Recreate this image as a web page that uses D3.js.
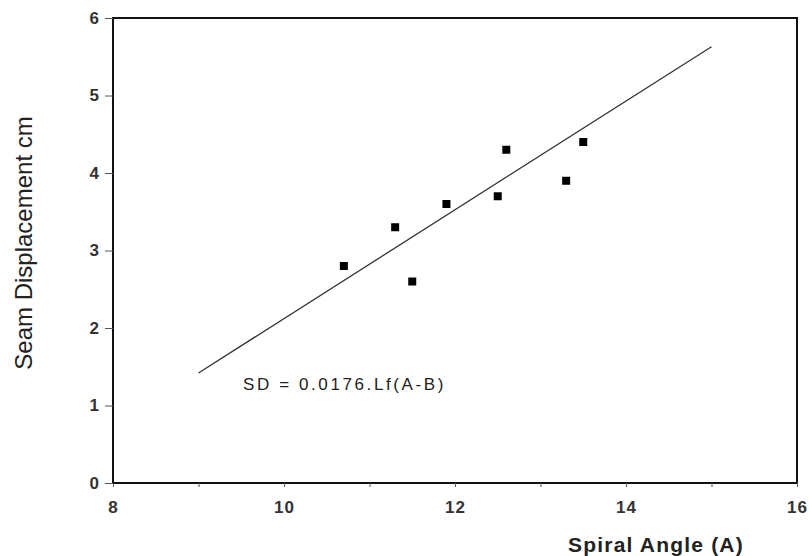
<!DOCTYPE html>
<html>
<head>
<meta charset="utf-8">
<script src="https://cdn.jsdelivr.net/npm/d3@7"></script>
<style>
  body { margin: 0; background: #fff; }
  text { font-family: "Liberation Sans", Arial, sans-serif; fill: #222; }
</style>
</head>
<body>
<svg id="chart" width="809" height="556"></svg>
<script>
var angle = [10.7, 11.3, 11.5, 11.9, 12.5, 12.6, 13.3, 13.5];
var displacement = [2.8, 3.3, 2.6, 3.6, 3.7, 4.3, 3.9, 4.4];
var fitX = [9, 15];
var fitY = [1.42, 5.63];
var xTickLabels = [8, 10, 12, 14, 16];
var yTickLabels = [0, 1, 2, 3, 4, 5, 6];

var svg = d3.select("#chart");
var plotLeft = 113, plotRight = 797, plotTop = 18, plotBottom = 483;

var x = d3.scaleLinear().domain([8, 16]).range([plotLeft, plotRight]);
var y = d3.scaleLinear().domain([0, 6]).range([plotBottom, plotTop]);

// frame
svg.append("rect").attr("x", plotLeft).attr("y", plotTop)
  .attr("width", plotRight - plotLeft).attr("height", plotBottom - plotTop)
  .attr("fill", "none").attr("stroke", "#111").attr("stroke-width", 2);

// x ticks every unit, labels on even ones
var xAxis = d3.axisBottom(x).tickValues(d3.range(8, 17)).tickSize(4).tickPadding(14)
  .tickFormat(function(d) { return xTickLabels.indexOf(d) >= 0 ? d : ""; });
var gx = svg.append("g").attr("transform", "translate(0," + plotBottom + ")").call(xAxis);
gx.select(".domain").remove();
gx.selectAll("line").attr("stroke", "#555");
gx.selectAll("text").attr("font-size", 17).attr("font-weight", "bold")
  .attr("letter-spacing", 1).style("fill", "#333");

var yAxis = d3.axisLeft(y).tickValues(yTickLabels).tickSize(8).tickPadding(6)
  .tickFormat(d3.format("d"));
var gy = svg.append("g").attr("transform", "translate(" + plotLeft + ",0)").call(yAxis);
gy.select(".domain").remove();
gy.selectAll("line").attr("stroke", "#555");
gy.selectAll("text").attr("font-size", 17).attr("font-weight", "bold").style("fill", "#333");

// fit line
svg.append("line")
  .attr("x1", x(fitX[0])).attr("y1", y(fitY[0]))
  .attr("x2", x(fitX[1])).attr("y2", y(fitY[1]))
  .attr("stroke", "#333").attr("stroke-width", 1.3);

// points
svg.selectAll("rect.pt").data(angle).enter().append("rect").attr("class", "pt")
  .attr("x", function(d) { return x(d) - 4; })
  .attr("y", function(d, i) { return y(displacement[i]) - 4; })
  .attr("width", 8).attr("height", 8).attr("fill", "#000");

svg.append("text").text("SD = 0.0176.Lf(A-B)")
  .attr("x", 243).attr("y", 390).attr("font-size", 17).attr("letter-spacing", 2.6);

svg.append("text").text("Spiral Angle (A)")
  .attr("x", 568).attr("y", 552).attr("font-size", 21).attr("font-weight", "bold")
  .attr("letter-spacing", 1.2);

svg.append("text").text("Seam Displacement cm")
  .attr("transform", "translate(32,243) rotate(-90)")
  .attr("text-anchor", "middle").attr("font-size", 24);
</script>
</body>
</html>
